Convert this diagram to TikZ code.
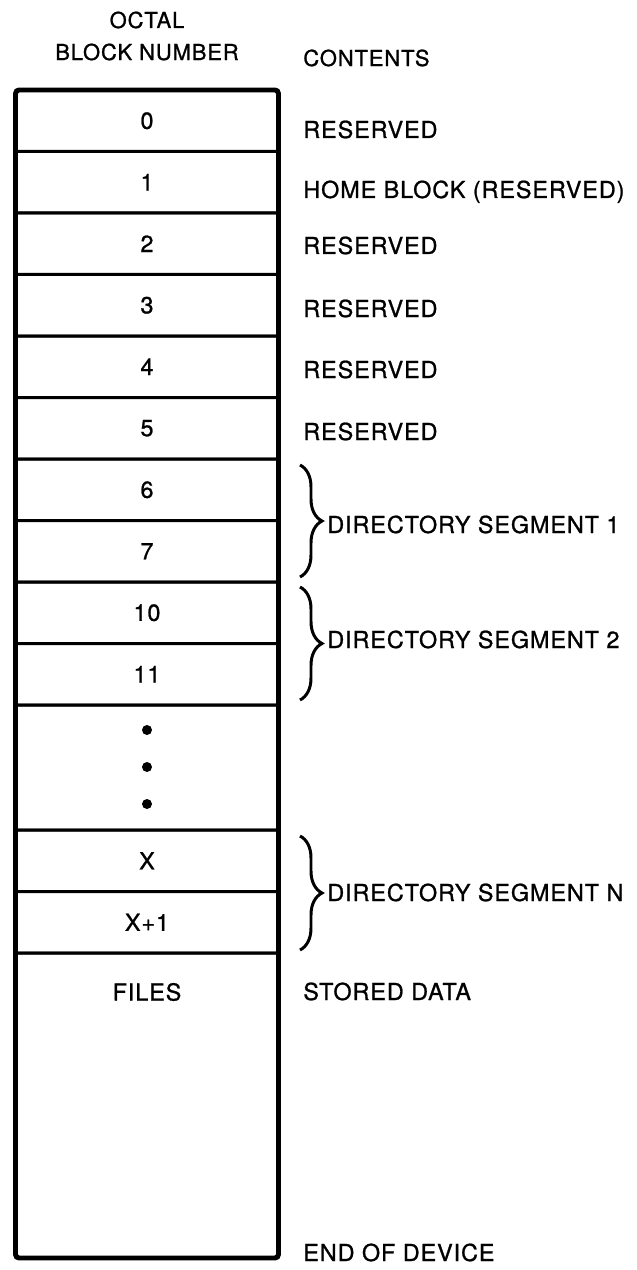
\documentclass[tikz,border=0pt]{standalone}
\usepackage{fontspec}
\setmainfont{TeX Gyre Heros}[FakeBold=1,LetterSpace=4]
\usetikzlibrary{decorations.pathreplacing}

\begin{document}
\begin{tikzpicture}[x=0.02cm,y=-0.02cm,
  cell/.style={draw=black,line width=1.7pt,rounded corners=1pt,minimum width=5.26cm,minimum height=1.23cm,inner sep=0pt,outer sep=0pt,font=\fontsize{13.3}{15}\selectfont},
  txt/.style={anchor=base west,inner sep=0pt,font=\fontsize{13.3}{15}\selectfont},
  hd/.style={inner sep=0pt,font=\fontsize{12.5}{15}\selectfont},
  dot/.style={circle,fill=black,minimum size=0.2cm,inner sep=0pt},
  brc/.style={decorate,decoration={brace,amplitude=0.44cm},line width=1.7pt},
  frm/.style={draw=black,line width=2.8pt,rounded corners=2pt}]
  \useasboundingbox (0,0) rectangle (636,1270);
  % column headings
  \node[hd] (oct) at (147,20) {OCTAL};
  \node[hd] (bln) at (147,52) {BLOCK NUMBER};
  \node[hd,anchor=west] (cnt) at (303,58) {CONTENTS};
  % the numbered blocks, one cell each
  \foreach \n/\yc in {0/120.75,1/182.25,2/243.75,3/305.25,4/366.75,5/428.25,6/489.75,7/551.25,10/612.75,11/674.25}
    \node[cell] (b\n) at (147,\yc) {\n};
  \node[cell,minimum height=2.5cm] (gap) at (147,767.5) {};
  \foreach \yd [count=\i] in {730,767,804} \node[dot] (d\i) at (147,\yd) {};
  \node[cell] (bx) at (147,860.75) {X};
  \node[cell] (bx1) at (147,922.25) {X+1};
  \node[cell,minimum height=6.1cm] (files) at (147,1105.5) {};
  \node[txt,anchor=center] (fl) at (147,992) {FILES};
  % heavy frame round the column
  \draw[frm] (b0.north west) rectangle (files.south east);
  % contents column
  \foreach \n/\yb/\t in {0/138/RESERVED,1/198/HOME BLOCK (RESERVED),2/254/RESERVED,3/317/RESERVED,4/378/RESERVED,5/440/RESERVED}
    \node[txt] (c\n) at (303,\yb) {\t};
  \draw[brc] (300,465) -- (300,577);
  \node[txt] (seg1) at (327,533) {DIRECTORY SEGMENT 1};
  \draw[brc] (300,587) -- (300,700);
  \node[txt] (seg2) at (327,648) {DIRECTORY SEGMENT 2};
  \draw[brc] (300,836) -- (300,950);
  \node[txt] (segn) at (327,901) {DIRECTORY SEGMENT N};
  \node[txt] (std) at (303,1000) {STORED DATA};
  \node[txt] (eod) at (303,1261) {END OF DEVICE};
\end{tikzpicture}
\end{document}
